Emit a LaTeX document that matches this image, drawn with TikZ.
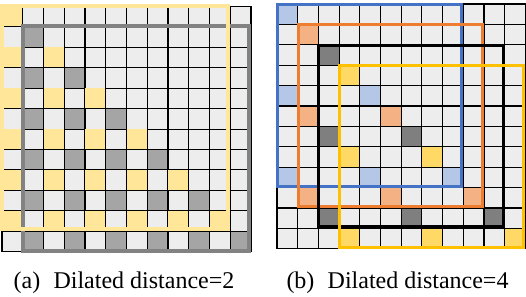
\documentclass[tikz,border=0pt]{standalone}
\usepackage{fontspec}
\setmainfont{Liberation Serif}
\usepackage{tikz}
\definecolor{cellbg}{HTML}{EDEDED}
\definecolor{kgray}{HTML}{A5A5A5}
\definecolor{kyellow}{HTML}{FFE699}
\definecolor{fgray}{HTML}{828282}
\definecolor{kblue}{HTML}{B4C7E7}
\definecolor{fblue}{HTML}{4472C4}
\definecolor{korange}{HTML}{F4B183}
\definecolor{forange}{HTML}{ED7D31}
\definecolor{kdark}{HTML}{7F7F7F}
\definecolor{kgold}{HTML}{FFD966}
\definecolor{fgold}{HTML}{FFC000}
\tikzset{
    cell_plain/.style={draw=black, line width=0.55pt, fill=cellbg},
    cell_gray/.style={draw=black, line width=0.55pt, fill=kgray},
    cell_yel/.style={fill=kyellow},
    cell_blue/.style={draw=black, line width=0.55pt, fill=kblue},
    cell_orange/.style={draw=black, line width=0.55pt, fill=korange},
    cell_dark/.style={draw=black, line width=0.55pt, fill=kdark},
    cell_gold/.style={draw=black, line width=0.55pt, fill=kgold},
    frame_wide/.style={draw=#1, line width=2pt},
    frame_mid/.style={draw=#1, line width=1.5pt},
    cap_lbl/.style={font=\fontsize{12}{14}\selectfont, anchor=base, inner sep=0pt}
}
\def\lx{2}    \def\ly{6.5}  \def\lw{20.75} \def\lh{20.43}
\def\rx{277}  \def\ry{4}    \def\rw{20.7}  \def\rh{20.4}

\begin{document}
\begin{tikzpicture}[x=0.5pt, y=-0.5pt]
    \useasboundingbox (0,0) rectangle (526,296);

    % (a) distance 2
    \foreach \r in {0,...,11}{
        \foreach \c in {0,...,11}{
            \pgfmathtruncatemacro{\hit}{(mod(\r-\c,2)==0)&&(\c<=\r)}
            \pgfmathtruncatemacro{\odd}{mod(\r,2)}
            \ifnum\hit=1
                \ifnum\odd=1 \def\sty{cell_gray}\else\def\sty{cell_yel}\fi
            \else
                \def\sty{cell_plain}
            \fi
            \path[\sty] (\lx+\c*\lw, \ly+\r*\lh) rectangle (\lx+\c*\lw+\lw, \ly+\r*\lh+\lh);
        }
    }
    \draw[frame_wide=fgray] (\lx+\lw, \ly+\lh-0.5) rectangle (\lx+12*\lw-2, \ly+12*\lh-0.5);
    \draw[frame_wide=kyellow] (\lx, \ly-1) rectangle (\lx+11*\lw-2, \ly+11*\lh-2);

    % (b) distance 4
    \foreach \r in {0,...,11}{
        \foreach \c in {0,...,11}{
            \pgfmathtruncatemacro{\hit}{(mod(\r-\c,4)==0)&&(\c<=\r)}
            \pgfmathtruncatemacro{\kk}{mod(\r,4)}
            \ifnum\hit=1
                \ifcase\kk \def\sty{cell_blue}\or\def\sty{cell_orange}\or\def\sty{cell_dark}\else\def\sty{cell_gold}\fi
            \else
                \def\sty{cell_plain}
            \fi
            \path[\sty] (\rx+\c*\rw, \ry+\r*\rh) rectangle (\rx+\c*\rw+\rw, \ry+\r*\rh+\rh);
        }
    }
    \foreach \k/\col in {0/fblue, 1/forange, 2/black, 3/fgold}{
        \draw[frame_mid=\col] (\rx+\k*\rw+0.5, \ry+\k*\rh+0.5) rectangle (\rx+\k*\rw+9*\rw-1.5, \ry+\k*\rh+9*\rh-1.5);
    }

    \node[cap_lbl] (cap_a) at (124, 288) {(a)\hspace{0.55em}Dilated distance=2};
    \node[cap_lbl] (cap_b) at (397.5, 288) {(b)\hspace{0.55em}Dilated distance=4};

\end{tikzpicture}
\end{document}
